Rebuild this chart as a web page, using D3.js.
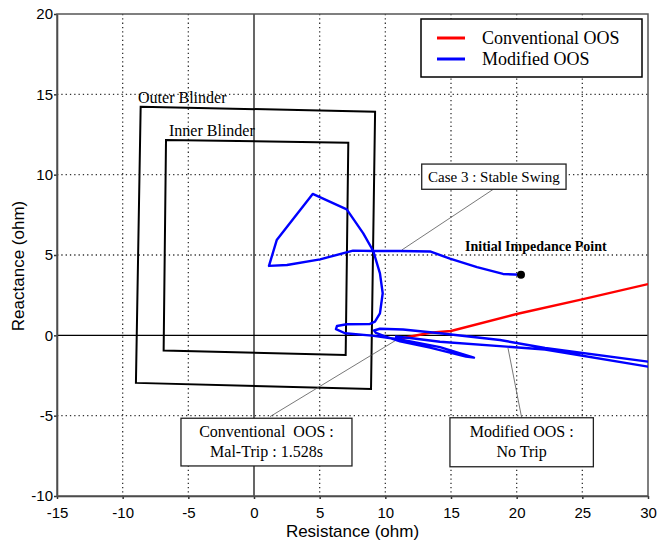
<!DOCTYPE html>
<html lang="en">
<head>
<meta charset="UTF-8">
<title>OOS impedance trajectory</title>
<script src="https://d3js.org/d3.v7.min.js"></script>
<style>
  body { margin: 0; background: #fff; }
  svg text { fill: #000; }
  .tick text { font-family: "Liberation Sans", Arial, sans-serif; font-size: 15px; }
  .serif { font-family: "Liberation Serif", "Times New Roman", serif; }
</style>
</head>
<body>
<div id="chart"></div>
<script>
// ---- data (ohm) ----
var xTicks = [-15, -10, -5, 0, 5, 10, 15, 20, 25, 30];
var yTicks = [-10, -5, 0, 5, 10, 15, 20];

var seriesNames = ["Conventional OOS", "Modified OOS"];
var seriesColors = ["#ff0000", "#0000ff"];

// conventional OOS trajectory (visible part)
var convR = [10.96, 13.40, 15.0, 20.0, 24.98, 30.0];
var convX = [-0.23, 0.16, 0.27, 1.33, 2.24, 3.19];

// modified OOS trajectory, from the initial impedance point
var modR = [20.33, 18.96, 16.98, 14.92, 13.40, 11.12, 9.06, 7.54, 5.03, 2.51, 1.14,
            1.73, 4.47, 7.06, 8.32, 9.08, 9.59, 9.80, 9.59, 9.21, 8.83, 7.06, 6.32, 6.24,
            6.93, 8.98, 11.12, 14.16, 16.75, 16.14, 13.40, 11.12, 9.97, 9.29, 9.14,
            9.59, 11.35, 14.16, 18.73, 22.16, 30.0, 31.3, 31.3, 30.0, 22.16, 14.16, 11.88, 10.74];
var modX = [3.77, 3.82, 4.25, 4.78, 5.22, 5.25, 5.25, 5.27, 4.73, 4.38, 4.32,
            5.93, 8.80, 7.84, 6.35, 5.25, 3.86, 2.62, 1.37, 0.85, 0.71, 0.69, 0.58, 0.39,
            0.13, -0.02, -0.26, -0.73, -1.39, -1.32, -0.76, -0.38, -0.07, 0.15, 0.30,
            0.41, 0.36, 0.13, -0.29, -0.79, -1.64, -1.78, -2.06, -1.95, -0.88, -0.40, -0.17, -0.07];

var initialPoint = [20.33, 3.77];

// blinder corners: TL, TR, BR, BL
var outerR = [-8.63, 9.22, 8.91, -8.99];
var outerX = [14.23, 13.92, -3.34, -2.96];
var innerR = [-6.70, 7.18, 6.98, -6.88];
var innerX = [12.16, 11.99, -1.22, -0.95];

// annotation boxes [r0, r1, x0, x1], lines of text, pointer [r, x, r, x]
var notes = [
  {lines: ["Case 3 : Stable Swing"], size: 15, box: [12.77, 23.76, 10.66, 9.09], ptr: [18.22, 9.09, 11.25, 5.31]},
  {lines: ["Conventional  OOS :", "Mal-Trip : 1.528s"], size: 16, box: [-5.56, 7.46, -5.16, -8.13], ptr: [1.22, -5.06, 10.96, -0.23]},
  {lines: ["Modified OOS :", "No Trip"], size: 16, box: [14.92, 25.84, -5.13, -8.18], ptr: [20.38, -5.13, 19.34, -0.79]}
];

// ---- layout ----
var margin = {top: 14, right: 10, bottom: 51, left: 57},
    width = 658 - margin.left - margin.right,
    height = 547 - margin.top - margin.bottom;

var svg = d3.select("#chart")
  .append("svg")
    .attr("width", 658)
    .attr("height", 547);

var g = svg.append("g")
    .attr("transform", "translate(" + margin.left + "," + margin.top + ")");

var x = d3.scaleLinear().domain([-15, 30]).range([0, width]);
var y = d3.scaleLinear().domain([-10, 20]).range([height, 0]);

svg.append("defs").append("clipPath").attr("id", "clip")
  .append("rect").attr("width", width).attr("height", height);

// grid
g.selectAll(".vgrid").data(xTicks.filter(function(d) { return d != 0 && d != -15 && d != 30; }))
  .enter().append("line")
    .attr("x1", function(d) { return x(d); }).attr("x2", function(d) { return x(d); })
    .attr("y1", 0).attr("y2", height)
    .attr("stroke", "#333").attr("stroke-width", 1.3).attr("stroke-dasharray", "1.3,3");
g.selectAll(".hgrid").data(yTicks.filter(function(d) { return d != 0 && d != -10 && d != 20; }))
  .enter().append("line")
    .attr("y1", function(d) { return y(d); }).attr("y2", function(d) { return y(d); })
    .attr("x1", 0).attr("x2", width)
    .attr("stroke", "#333").attr("stroke-width", 1.3).attr("stroke-dasharray", "1.3,3");

// zero lines
g.append("line").attr("x1", x(0)).attr("x2", x(0)).attr("y1", 0).attr("y2", height)
  .attr("stroke", "#000").attr("stroke-width", 1.2);
g.append("line").attr("y1", y(0)).attr("y2", y(0)).attr("x1", 0).attr("x2", width)
  .attr("stroke", "#000").attr("stroke-width", 1.2);

// axes
var fmt = function(d) { return String(d); };
var xAxis = g.append("g")
    .attr("transform", "translate(0," + height + ")")
    .call(d3.axisBottom(x).tickValues(xTicks).tickFormat(fmt).tickSize(3).tickSizeOuter(0));
var yAxis = g.append("g")
    .call(d3.axisLeft(y).tickValues(yTicks).tickFormat(fmt).tickSize(3).tickSizeOuter(0));
xAxis.selectAll("text").attr("dy", "1.05em");
yAxis.selectAll("text").attr("x", -4);
xAxis.selectAll("path, line").attr("stroke", "#333").attr("stroke-width", 1.5);
yAxis.selectAll("path, line").attr("stroke", "#333").attr("stroke-width", 1.5);

g.append("rect").attr("width", width).attr("height", height)
  .attr("fill", "none").attr("stroke", "#555").attr("stroke-width", 1.5);

svg.append("text")
  .attr("x", margin.left + width / 2).attr("y", 537)
  .attr("text-anchor", "middle")
  .style("font-family", "Liberation Sans, Arial, sans-serif").style("font-size", "17px")
  .text("Resistance (ohm)");
svg.append("text")
  .attr("transform", "translate(24," + 266 + ") rotate(-90)")
  .attr("text-anchor", "middle")
  .style("font-family", "Liberation Sans, Arial, sans-serif").style("font-size", "17px")
  .text("Reactance (ohm)");

// blinders
function corners(rs, xs) { return rs.map(function(r, i) { return [r, xs[i]]; }); }
var poly = d3.line().x(function(d) { return x(d[0]); }).y(function(d) { return y(d[1]); });

[corners(outerR, outerX), corners(innerR, innerX)].forEach(function(c) {
  g.append("path")
    .attr("d", poly(c) + "Z")
    .attr("fill", "none").attr("stroke", "#000").attr("stroke-width", 2);
});

g.append("text").attr("class", "serif")
  .attr("x", x(-8.83)).attr("y", y(14.45))
  .style("font-size", "16px").text("Outer Blinder");
g.append("text").attr("class", "serif")
  .attr("x", x(-6.47)).attr("y", y(12.4))
  .style("font-size", "16px").text("Inner Blinder");

// pointers (under the traces)
notes.forEach(function(n) {
  g.append("line")
    .attr("x1", x(n.ptr[0])).attr("y1", y(n.ptr[1]))
    .attr("x2", x(n.ptr[2])).attr("y2", y(n.ptr[3]))
    .attr("stroke", "#555").attr("stroke-width", 0.8);
});

// traces
var traces = g.append("g").attr("clip-path", "url(#clip)");
traces.append("path")
  .attr("d", poly(corners(convR, convX)))
  .attr("fill", "none").attr("stroke", seriesColors[0]).attr("stroke-width", 2.4);
traces.append("path")
  .attr("d", poly(corners(modR, modX)))
  .attr("fill", "none").attr("stroke", seriesColors[1]).attr("stroke-width", 2.4)
  .attr("stroke-linejoin", "round");

g.append("circle")
  .attr("cx", x(initialPoint[0])).attr("cy", y(initialPoint[1])).attr("r", 4)
  .attr("fill", "#000");
g.append("text").attr("class", "serif")
  .attr("x", x(16.07)).attr("y", y(5.27))
  .style("font-size", "14px").style("font-weight", "bold")
  .text("Initial Impedance Point");

// annotation boxes
notes.forEach(function(n) {
  var x0 = x(n.box[0]), x1 = x(n.box[1]), y0 = y(n.box[2]), y1 = y(n.box[3]);
  g.append("rect")
    .attr("x", x0).attr("y", y0).attr("width", x1 - x0).attr("height", y1 - y0)
    .attr("fill", "#fff").attr("stroke", "#222").attr("stroke-width", 1.3);
  var t = g.append("text").attr("class", "serif")
    .attr("text-anchor", "middle").style("font-size", n.size + "px")
    .style("white-space", "pre");
  var lh = 20, cy = (y0 + y1) / 2 - (n.lines.length - 1) * lh / 2 + 5;
  n.lines.forEach(function(s, i) {
    t.append("tspan").attr("x", (x0 + x1) / 2).attr("y", cy + i * lh).text(s);
  });
});

// legend
var leg = svg.append("g");
leg.append("rect").attr("x", 421).attr("y", 19).attr("width", 221).attr("height", 58)
  .attr("fill", "#fff").attr("stroke", "#000").attr("stroke-width", 1.5);
seriesNames.forEach(function(s, i) {
  leg.append("line").attr("x1", 437).attr("x2", 465)
    .attr("y1", 38 + i * 21).attr("y2", 38 + i * 21)
    .attr("stroke", seriesColors[i]).attr("stroke-width", 3);
  leg.append("text").attr("class", "serif")
    .attr("x", 482).attr("y", 44 + i * 21)
    .style("font-size", "18px").text(s);
});
</script>
</body>
</html>
